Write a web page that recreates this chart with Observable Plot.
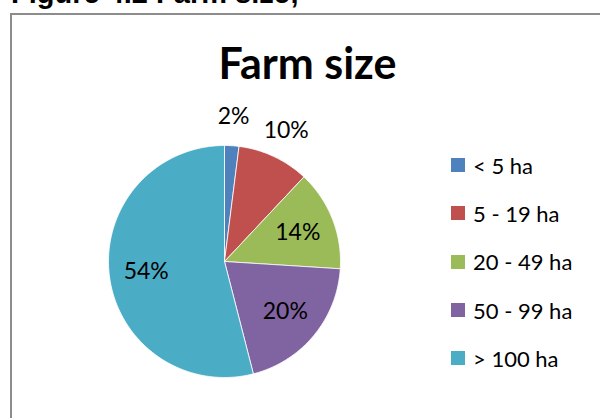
<!DOCTYPE html>
<html>
<head>
<meta charset="utf-8">
<script src="https://cdn.jsdelivr.net/npm/d3@7"></script>
<script src="https://cdn.jsdelivr.net/npm/@observablehq/plot@0.6"></script>
<style>
  html, body { margin: 0; padding: 0; background: #fff; }
  #wrap { position: relative; width: 600px; height: 418px; overflow: hidden; }
  #fig { position: absolute; left: 11px; top: -23px; font: bold 29px "Liberation Sans", Arial, sans-serif; color: #000; white-space: nowrap; }
  #box { position: absolute; left: 10px; top: 13px; width: 600px; height: 420px; border: 2px solid #8c8c8c; box-sizing: border-box; }
  #title { position: absolute; left: 0; width: 615px; top: 37px; text-align: center; font: bold 43px Lato, sans-serif; color: #000; }
  #legend { position: absolute; left: 451px; top: 141px; font: 22px Lato, sans-serif; color: #000; }
  .row { display: flex; align-items: center; height: 48.3px; }
  .sw { width: 14px; height: 14px; margin-right: 8px; }
  #chart { position: absolute; left: 0; top: 0; }
</style>
</head>
<body>
<div id="wrap">
  <div id="box"></div>
  <div id="fig">Figure 4.2 Farm size;</div>
  <div id="title">Farm size</div>
  <div id="chart"></div>
  <div id="legend"></div>
</div>
<script>
const categories = ["< 5 ha", "5 - 19 ha", "20 - 49 ha", "50 - 99 ha", "> 100 ha"];
const shares = [2, 10, 14, 20, 54];
const shareLabels = ["2%", "10%", "14%", "20%", "54%"];
const colors = ["#4F81BD", "#C0504D", "#9BBB59", "#8064A2", "#4BACC6"];

const total = d3.sum(shares);
let cum = 0;
const slices = shares.map((v, i) => {
  const a0 = cum / total * 2 * Math.PI;
  cum += v;
  const a1 = cum / total * 2 * Math.PI;
  return { cat: categories[i], v, label: shareLabels[i], a0, a1, mid: (a0 + a1) / 2 };
});

const pts = slices.flatMap(s => {
  const n = Math.max(2, Math.ceil((s.a1 - s.a0) / (Math.PI / 180)));
  const arr = [{ cat: s.cat, x: 0, y: 0 }];
  for (let k = 0; k <= n; k++) {
    const a = s.a0 + (s.a1 - s.a0) * k / n;
    arr.push({ cat: s.cat, x: Math.sin(a), y: Math.cos(a) });
  }
  arr.push({ cat: s.cat, x: 0, y: 0 });
  return arr;
});

const labelR = s => (s.v / total < 0.12 ? 1.25 : 0.68);

const chart = Plot.plot({
  width: 600,
  height: 418,
  marginLeft: 108,
  marginRight: 260,
  marginTop: 145,
  marginBottom: 41,
  x: { domain: [-1, 1], axis: null },
  y: { domain: [-1, 1], axis: null },
  color: { domain: categories, range: colors },
  style: { background: "transparent", fontFamily: "Lato, sans-serif" },
  marks: [
    Plot.line(pts, { x: "x", y: "y", z: "cat", fill: "cat", stroke: "white", strokeWidth: 0.8, curve: "linear" }),
    Plot.text(slices, {
      x: s => Math.sin(s.mid) * labelR(s),
      y: s => Math.cos(s.mid) * labelR(s),
      text: "label",
      fontSize: 23,
      fill: "#000",
      fontFamily: "Lato, sans-serif"
    })
  ]
});
document.getElementById("chart").appendChild(chart);

const legend = document.getElementById("legend");
categories.forEach((c, i) => {
  const row = document.createElement("div");
  row.className = "row";
  const sw = document.createElement("div");
  sw.className = "sw";
  sw.style.background = colors[i];
  const t = document.createElement("span");
  t.textContent = c;
  row.appendChild(sw);
  row.appendChild(t);
  legend.appendChild(row);
});
</script>
</body>
</html>
